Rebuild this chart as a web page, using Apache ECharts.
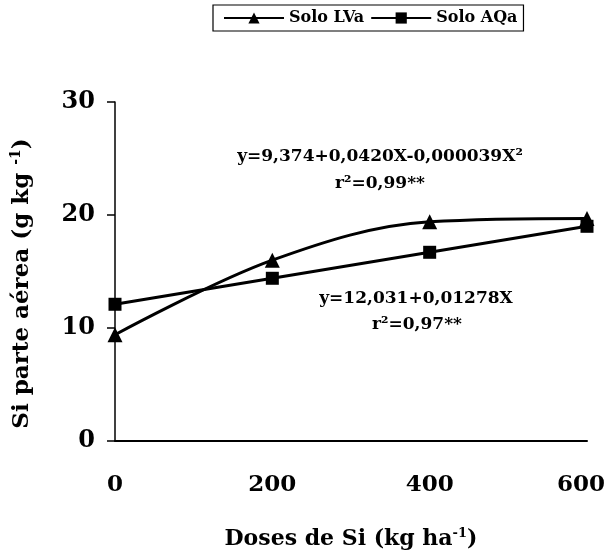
<!DOCTYPE html>
<html><head><meta charset="utf-8">
<script src="https://cdn.jsdelivr.net/npm/echarts@6/dist/echarts.min.js"></script>
<style>html,body{margin:0;padding:0;background:#fff}#c{width:606px;height:556px}</style>
</head><body><div id="c"></div>
<script>
var doses = [0, 200, 400, 600];
var soloLVa = [9.4, 16.0, 19.4, 19.7];
var soloAQa = [12.1, 14.4, 16.7, 19.0];
var xTicks = [0, 200, 400, 600];
var yTicks = [0, 10, 20, 30];
var eqLVa = ['y=9,374+0,0420X-0,000039X²', 'r²=0,99**'];
var eqAQa = ['y=12,031+0,01278X', 'r²=0,97**'];

var F = 'DejaVu Serif';
function pairs(xs, ys){ return xs.map(function(x,i){ return [x, ys[i]]; }); }

var chart = echarts.init(document.getElementById('c'));
chart.setOption({
  backgroundColor: '#fff',
  animation: false,
  legend: {
    left: 213, top: 5,
    padding: [5, 6, 5, 10],
    itemGap: 6, itemWidth: 60, itemHeight: 14,
    borderColor: '#000', borderWidth: 1.2,
    textStyle: { fontFamily: F, fontWeight: 'bold', fontSize: 16, color: '#000' },
    data: ['Solo LVa', 'Solo AQa']
  },
  grid: { left: 115, right: 19, top: 102, bottom: 115, outerBoundsMode: 'none', containLabel: false },
  xAxis: {
    type: 'value', min: 0, max: 600, interval: 200,
    name: 'Doses de Si (kg ha{s|-1})',
    nameLocation: 'middle', nameGap: 86,
    nameTextStyle: { fontFamily: F, fontWeight: 'bold', fontSize: 22, color: '#000',
      rich: { s: { fontFamily: F, fontWeight: 'bold', fontSize: 13, color: '#000', padding: [0, 0, 11, 0] } } },
    axisLine: { lineStyle: { color: '#000', width: 2 } },
    axisTick: { show: false },
    splitLine: { show: false },
    axisLabel: { margin: 33, fontFamily: F, fontWeight: 'bold', fontSize: 23, color: '#000',
      rich: { m: { fontFamily: F, fontWeight: 'bold', fontSize: 23, color: '#000', padding: [0, 12, 0, 0] } },
      formatter: function(v){
        if (xTicks.indexOf(v) < 0) return '';
        return v === 600 ? '{m|' + v + '}' : String(v);
      } }
  },
  yAxis: {
    type: 'value', min: 0, max: 30, interval: 10,
    name: 'Si parte aérea (g kg {s|-1})',
    nameLocation: 'middle', nameGap: 80, nameRotate: 90,
    nameTextStyle: { fontFamily: F, fontWeight: 'bold', fontSize: 23, color: '#000', padding: [0, 24, 0, 0],
      rich: { s: { fontFamily: F, fontWeight: 'bold', fontSize: 14, color: '#000', padding: [0, 0, 12, 0] } } },
    axisLine: { show: true, lineStyle: { color: '#000', width: 1.5 } },
    axisTick: { show: true, inside: false, length: 8, lineStyle: { color: '#000', width: 1.5 } },
    splitLine: { show: false },
    axisLabel: { margin: 20, fontFamily: F, fontWeight: 'bold', fontSize: 24, color: '#000',
      formatter: function(v){ return yTicks.indexOf(v) >= 0 ? String(v) : ''; } }
  },
  series: [
    { name: 'Solo LVa', type: 'line', data: pairs(doses, soloLVa), smooth: 0.35,
      symbol: 'triangle', symbolSize: 15,
      lineStyle: { color: '#000', width: 3 }, itemStyle: { color: '#000' } },
    { name: 'Solo AQa', type: 'line', data: pairs(doses, soloAQa), smooth: false,
      symbol: 'rect', symbolSize: 13,
      lineStyle: { color: '#000', width: 3 }, itemStyle: { color: '#000' } }
  ],
  graphic: [
    { type: 'text', x: 380, y: 157, style: { text: eqLVa[0], fontFamily: F, fontWeight: 'bold', fontSize: 17, fill: '#000', align: 'center', verticalAlign: 'middle' } },
    { type: 'text', x: 380, y: 184, style: { text: eqLVa[1], fontFamily: F, fontWeight: 'bold', fontSize: 17, fill: '#000', align: 'center', verticalAlign: 'middle' } },
    { type: 'text', x: 416, y: 299, style: { text: eqAQa[0], fontFamily: F, fontWeight: 'bold', fontSize: 17, fill: '#000', align: 'center', verticalAlign: 'middle' } },
    { type: 'text', x: 417, y: 325, style: { text: eqAQa[1], fontFamily: F, fontWeight: 'bold', fontSize: 17, fill: '#000', align: 'center', verticalAlign: 'middle' } }
  ]
});
</script></body></html>
